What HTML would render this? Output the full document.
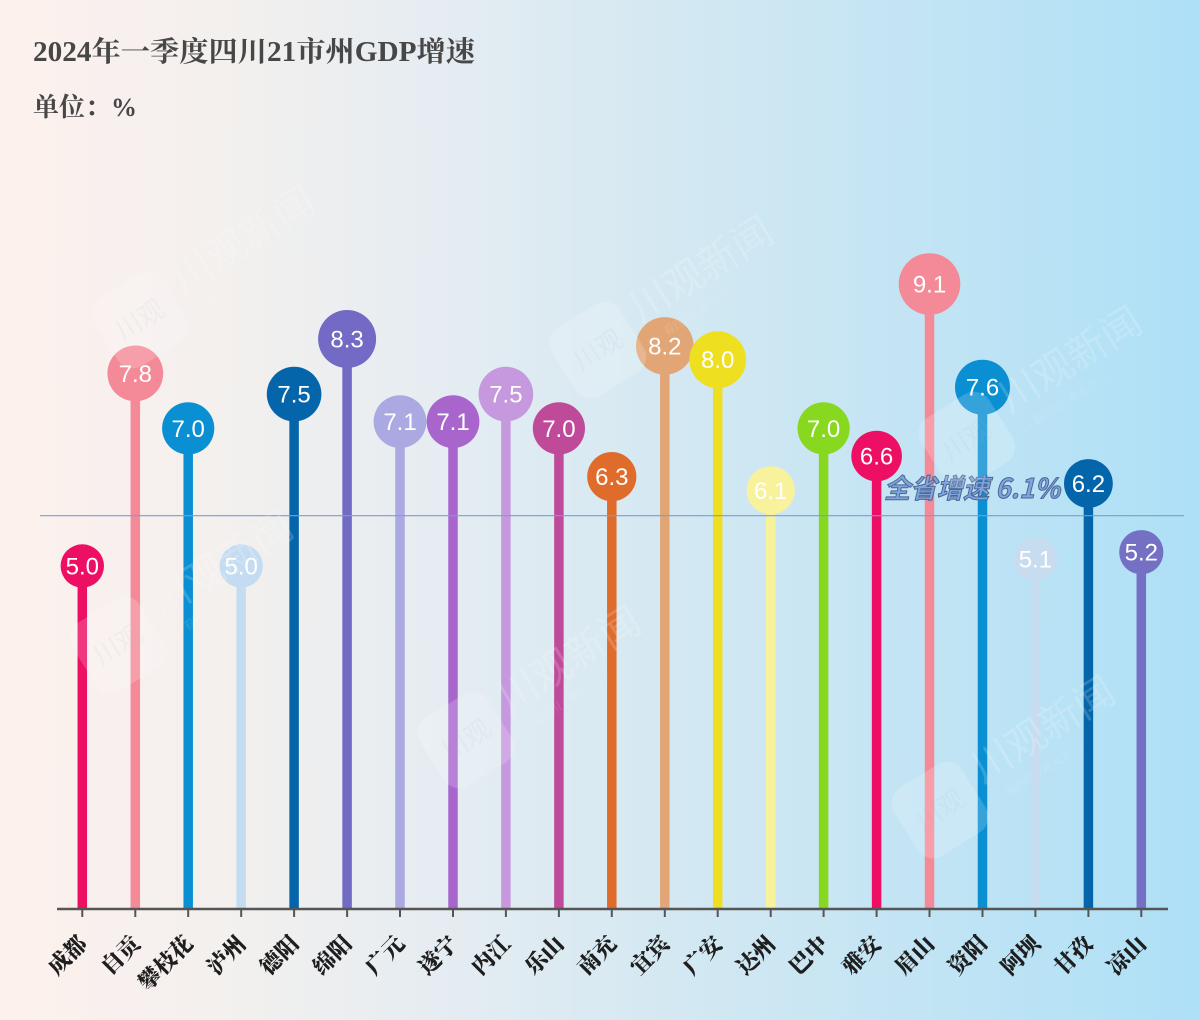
<!DOCTYPE html>
<html><head><meta charset="utf-8"><style>
html,body{margin:0;padding:0;width:1200px;height:1020px;overflow:hidden;}
svg{display:block;}
</style></head><body>
<svg width="1200" height="1020" viewBox="0 0 1200 1020" xmlns="http://www.w3.org/2000/svg">
<defs>
<linearGradient id="bg" x1="0" y1="0" x2="1" y2="0">
<stop offset="0" stop-color="#fdf1ed"/>
<stop offset="0.19" stop-color="#f3f0ee"/>
<stop offset="0.38" stop-color="#e4ecf2"/>
<stop offset="0.58" stop-color="#d2e8f2"/>
<stop offset="0.77" stop-color="#c2e4f4"/>
<stop offset="1" stop-color="#aee0f7"/>
</linearGradient>
<g id="wm">
<rect x="-40" y="-40" width="80" height="80" rx="18" fill="#ffffff" fill-opacity="0.5"/>
<text x="0" y="9" text-anchor="middle" font-family="'Liberation Sans','Noto Sans CJK SC',sans-serif" font-size="26" fill="#c8d4dc" fill-opacity="0.5">川观</text>
<text x="50" y="0" font-family="'Liberation Sans','Noto Sans CJK SC',sans-serif" font-size="40" fill="#ffffff" fill-opacity="0.5">川观新闻</text>
<text x="52" y="24" font-family="'Liberation Serif','Noto Serif CJK SC',serif" font-size="11" fill="#ffffff" fill-opacity="0.5">— 看四川 · 观天下 —</text>
</g>
</defs>
<rect width="1200" height="1020" fill="url(#bg)"/>

<text x="33" y="61" font-family="'Liberation Serif','Noto Serif CJK SC',serif" font-weight="bold" font-size="28" fill="#474747" textLength="442" lengthAdjust="spacingAndGlyphs">2024年一季度四川21市州GDP增速</text>
<text x="33" y="116" font-family="'Liberation Serif','Noto Serif CJK SC',serif" font-weight="bold" font-size="26" fill="#474747">单位：%</text>

<!-- bars -->
<g>
<rect x="77.55" y="566" width="9.5" height="343" fill="#ec0f64"/>
<rect x="130.55" y="373.4" width="9.5" height="535.6" fill="#f48a97"/>
<rect x="183.45" y="428.4" width="9.5" height="480.6" fill="#0a90d2"/>
<rect x="236.45" y="566" width="9.5" height="343" fill="#c4dcf2"/>
<rect x="289.35" y="394.1" width="9.5" height="514.9" fill="#0565aa"/>
<rect x="342.35" y="339" width="9.5" height="570" fill="#726ac4"/>
<rect x="395.25" y="421.6" width="9.5" height="487.4" fill="#aba9e2"/>
<rect x="448.25" y="421.6" width="9.5" height="487.4" fill="#a866cc"/>
<rect x="501.15" y="394.1" width="9.5" height="514.9" fill="#c698de"/>
<rect x="554.15" y="428.4" width="9.5" height="480.6" fill="#c04a9a"/>
<rect x="607.05" y="476.6" width="9.5" height="432.4" fill="#e06c2c"/>
<rect x="660.05" y="345.9" width="9.5" height="563.1" fill="#e2a676"/>
<rect x="712.95" y="359.7" width="9.5" height="549.3" fill="#eee020"/>
<rect x="765.95" y="490.3" width="9.5" height="418.7" fill="#f8f29c"/>
<rect x="818.85" y="428.4" width="9.5" height="480.6" fill="#88d820"/>
<rect x="871.85" y="456" width="9.5" height="453" fill="#ec0f64"/>
<rect x="924.75" y="284" width="9.5" height="625" fill="#f48a97"/>
<rect x="977.75" y="387.2" width="9.5" height="521.8" fill="#0a90d2"/>
<rect x="1030.65" y="559.1" width="9.5" height="349.9" fill="#c8dcf0"/>
<rect x="1083.65" y="483.5" width="9.5" height="425.5" fill="#0565aa"/>
<rect x="1136.55" y="552.2" width="9.5" height="356.8" fill="#7470c4"/>
</g>

<!-- circles -->
<g>
<circle cx="82.3" cy="566" r="21.7" fill="#ec0f64"/>
<circle cx="135.3" cy="373.4" r="27.9" fill="#f48a97"/>
<circle cx="188.2" cy="428.4" r="26.1" fill="#0a90d2"/>
<circle cx="241.2" cy="566" r="21.7" fill="#c4dcf2"/>
<circle cx="294.1" cy="394.1" r="27.3" fill="#0565aa"/>
<circle cx="347.1" cy="339" r="29" fill="#726ac4"/>
<circle cx="400" cy="421.6" r="26.4" fill="#aba9e2"/>
<circle cx="453" cy="421.6" r="26.4" fill="#a866cc"/>
<circle cx="505.9" cy="394.1" r="27.3" fill="#c698de"/>
<circle cx="558.9" cy="428.4" r="26.1" fill="#c04a9a"/>
<circle cx="611.8" cy="476.6" r="24.6" fill="#e06c2c"/>
<circle cx="664.8" cy="345.9" r="28.8" fill="#e2a676"/>
<circle cx="717.7" cy="359.7" r="28.4" fill="#eee020"/>
<circle cx="770.7" cy="490.3" r="24.1" fill="#f8f29c"/>
<circle cx="823.6" cy="428.4" r="26.1" fill="#88d820"/>
<circle cx="876.6" cy="456" r="25.3" fill="#ec0f64"/>
<circle cx="929.5" cy="284" r="30.8" fill="#f48a97"/>
<circle cx="982.5" cy="387.2" r="27.5" fill="#0a90d2"/>
<circle cx="1035.4" cy="559.1" r="21.9" fill="#c8dcf0"/>
<circle cx="1088.4" cy="483.5" r="24.4" fill="#0565aa"/>
<circle cx="1141.3" cy="552.2" r="22.1" fill="#7470c4"/>
</g>

<!-- value labels -->
<g font-family="'Liberation Sans','DejaVu Sans',sans-serif" font-size="24" fill="#ffffff" text-anchor="middle">
<text x="82.3" y="574.5">5.0</text>
<text x="135.3" y="381.9">7.8</text>
<text x="188.2" y="436.9">7.0</text>
<text x="241.2" y="574.5">5.0</text>
<text x="294.1" y="402.6">7.5</text>
<text x="347.1" y="347.5">8.3</text>
<text x="400" y="430.1">7.1</text>
<text x="453" y="430.1">7.1</text>
<text x="505.9" y="402.6">7.5</text>
<text x="558.9" y="436.9">7.0</text>
<text x="611.8" y="485.1">6.3</text>
<text x="664.8" y="354.4">8.2</text>
<text x="717.7" y="368.2">8.0</text>
<text x="770.7" y="498.8">6.1</text>
<text x="823.6" y="436.9">7.0</text>
<text x="876.6" y="464.5">6.6</text>
<text x="929.5" y="292.5">9.1</text>
<text x="982.5" y="395.7">7.6</text>
<text x="1035.4" y="567.6">5.1</text>
<text x="1088.4" y="492">6.2</text>
<text x="1141.3" y="560.7">5.2</text>
</g>

<!-- average line -->
<line x1="40" y1="515.7" x2="1184" y2="515.7" stroke="#7a9cd6" stroke-width="1.2"/>
<text x="884" y="498" font-family="'WenQuanYi Zen Hei','Noto Sans CJK SC',sans-serif" font-style="italic" font-weight="bold" font-size="27" fill="#7ea4e2" stroke="#4c6690" stroke-width="1" textLength="176" lengthAdjust="spacingAndGlyphs">全省增速 6.1%</text>

<!-- axis -->
<line x1="57" y1="909" x2="1168" y2="909" stroke="#555555" stroke-width="2.5"/>
<g stroke="#555555" stroke-width="2">
<line x1="82.3" y1="909" x2="82.3" y2="917"/>
<line x1="135.3" y1="909" x2="135.3" y2="917"/>
<line x1="188.2" y1="909" x2="188.2" y2="917"/>
<line x1="241.2" y1="909" x2="241.2" y2="917"/>
<line x1="294.1" y1="909" x2="294.1" y2="917"/>
<line x1="347.1" y1="909" x2="347.1" y2="917"/>
<line x1="400" y1="909" x2="400" y2="917"/>
<line x1="453" y1="909" x2="453" y2="917"/>
<line x1="505.9" y1="909" x2="505.9" y2="917"/>
<line x1="558.9" y1="909" x2="558.9" y2="917"/>
<line x1="611.8" y1="909" x2="611.8" y2="917"/>
<line x1="664.8" y1="909" x2="664.8" y2="917"/>
<line x1="717.7" y1="909" x2="717.7" y2="917"/>
<line x1="770.7" y1="909" x2="770.7" y2="917"/>
<line x1="823.6" y1="909" x2="823.6" y2="917"/>
<line x1="876.6" y1="909" x2="876.6" y2="917"/>
<line x1="929.5" y1="909" x2="929.5" y2="917"/>
<line x1="982.5" y1="909" x2="982.5" y2="917"/>
<line x1="1035.4" y1="909" x2="1035.4" y2="917"/>
<line x1="1088.4" y1="909" x2="1088.4" y2="917"/>
<line x1="1141.3" y1="909" x2="1141.3" y2="917"/>
</g>

<!-- category labels -->
<g font-family="'Liberation Serif','Noto Serif CJK SC',serif" font-weight="900" font-size="22" fill="#1e1e1e" text-anchor="end">
<text x="88.3" y="945" transform="rotate(-45 88.3 945)">成都</text>
<text x="141.3" y="945" transform="rotate(-45 141.3 945)">自贡</text>
<text x="194.2" y="945" transform="rotate(-45 194.2 945)">攀枝花</text>
<text x="247.2" y="945" transform="rotate(-45 247.2 945)">泸州</text>
<text x="300.1" y="945" transform="rotate(-45 300.1 945)">德阳</text>
<text x="353.1" y="945" transform="rotate(-45 353.1 945)">绵阳</text>
<text x="406" y="945" transform="rotate(-45 406 945)">广元</text>
<text x="459" y="945" transform="rotate(-45 459 945)">遂宁</text>
<text x="511.9" y="945" transform="rotate(-45 511.9 945)">内江</text>
<text x="564.9" y="945" transform="rotate(-45 564.9 945)">乐山</text>
<text x="617.8" y="945" transform="rotate(-45 617.8 945)">南充</text>
<text x="670.8" y="945" transform="rotate(-45 670.8 945)">宜宾</text>
<text x="723.7" y="945" transform="rotate(-45 723.7 945)">广安</text>
<text x="776.7" y="945" transform="rotate(-45 776.7 945)">达州</text>
<text x="829.6" y="945" transform="rotate(-45 829.6 945)">巴中</text>
<text x="882.6" y="945" transform="rotate(-45 882.6 945)">雅安</text>
<text x="935.5" y="945" transform="rotate(-45 935.5 945)">眉山</text>
<text x="988.5" y="945" transform="rotate(-45 988.5 945)">资阳</text>
<text x="1041.4" y="945" transform="rotate(-45 1041.4 945)">阿坝</text>
<text x="1094.4" y="945" transform="rotate(-45 1094.4 945)">甘孜</text>
<text x="1147.3" y="945" transform="rotate(-45 1147.3 945)">凉山</text>
</g>

<!-- watermarks -->
<g opacity="0.35">
<use href="#wm" transform="translate(140 320) rotate(-32)"/>
<use href="#wm" transform="translate(598 350) rotate(-32)"/>
<use href="#wm" transform="translate(967 440) rotate(-32)"/>
<use href="#wm" transform="translate(118 645) rotate(-32)"/>
<use href="#wm" transform="translate(466 740) rotate(-32)"/>
<use href="#wm" transform="translate(940 810) rotate(-32)"/>
</g>
</svg>
</body></html>
